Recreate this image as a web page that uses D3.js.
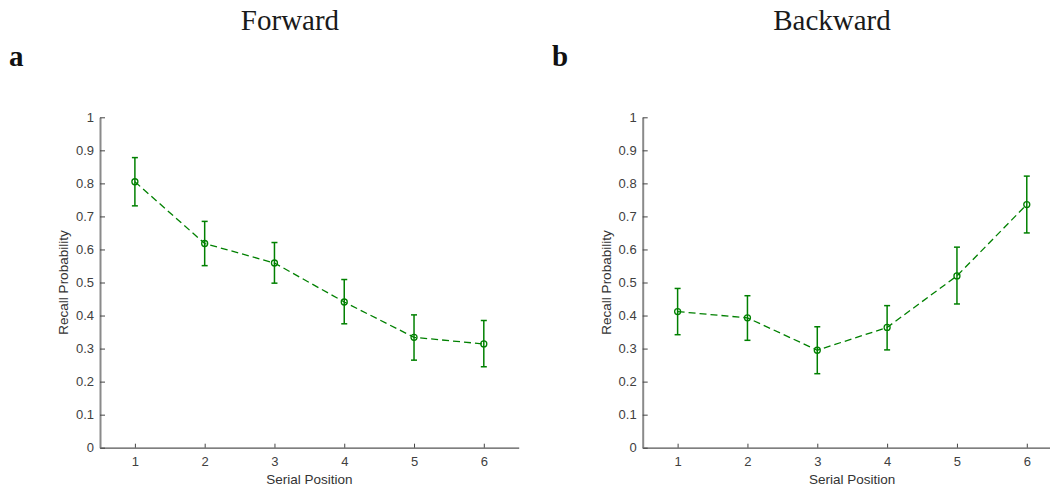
<!DOCTYPE html>
<html>
<head>
<meta charset="utf-8">
<script src="https://cdn.jsdelivr.net/npm/d3@7"></script>
<style>
  html, body { margin: 0; padding: 0; background: #fff; }
  svg { display: block; }
</style>
</head>
<body>
<svg id="chart" width="1050" height="489"></svg>
<script>
// ---- data ----
const positions = [1, 2, 3, 4, 5, 6];
const forwardMean  = [0.805, 0.618, 0.559, 0.441, 0.334, 0.314];
const forwardUpper = [0.878, 0.685, 0.621, 0.509, 0.402, 0.385];
const forwardLower = [0.732, 0.551, 0.498, 0.375, 0.265, 0.245];
const backwardMean  = [0.412, 0.393, 0.295, 0.364, 0.520, 0.736];
const backwardUpper = [0.482, 0.460, 0.366, 0.430, 0.607, 0.822];
const backwardLower = [0.342, 0.325, 0.224, 0.296, 0.435, 0.650];
const yTicks = [0, 0.1, 0.2, 0.3, 0.4, 0.5, 0.6, 0.7, 0.8, 0.9, 1];
const xTicks = [1, 2, 3, 4, 5, 6];
const panelTitles = ["Forward", "Backward"];
const panelLetters = ["a", "b"];
const xLabel = "Serial Position";
const yLabel = "Recall Probability";

const svg = d3.select("#chart");
const green = "#008000";

const panels = [
  { title: panelTitles[0], letter: panelLetters[0], mean: forwardMean, up: forwardUpper, lo: forwardLower,
    x0: 100, x1: 518.7, titleX: 290, letterX: 9, ylabX: 68 },
  { title: panelTitles[1], letter: panelLetters[1], mean: backwardMean, up: backwardUpper, lo: backwardLower,
    x0: 642.7, x1: 1061.7, titleX: 832, letterX: 552, ylabX: 611 }
];

const yTop = 117.3, yBot = 447.7;

panels.forEach(p => {
  const x = d3.scaleLinear().domain([0.5, 6.5]).range([p.x0, p.x1]);
  const y = d3.scaleLinear().domain([0, 1]).range([yBot, yTop]);
  const g = svg.append("g");

  // title
  svg.append("text")
    .attr("x", p.titleX).attr("y", 30)
    .attr("text-anchor", "middle")
    .attr("font-family", "'Liberation Serif', 'DejaVu Serif', serif")
    .attr("font-size", 29)
    .attr("fill", "#1a1a1a")
    .text(p.title);
  // letter
  svg.append("text")
    .attr("x", p.letterX).attr("y", 66)
    .attr("font-family", "'Liberation Serif', 'DejaVu Serif', serif")
    .attr("font-weight", "bold")
    .attr("font-size", 29)
    .attr("fill", "#111")
    .text(p.letter);

  // x axis
  const xAxis = d3.axisBottom(x).tickValues(xTicks).tickSizeInner(-4).tickSizeOuter(0).tickPadding(9)
    .tickFormat(d3.format("d"));
  const gx = g.append("g").attr("transform", `translate(0,${yBot})`).call(xAxis);
  gx.select(".domain").attr("stroke", "#555").attr("stroke-width", 1.3);
  gx.selectAll(".tick line").attr("stroke", "#444").attr("stroke-width", 1);
  gx.selectAll(".tick text").attr("font-family", "'Liberation Sans', Arial, sans-serif")
    .attr("font-size", 13).attr("fill", "#404040");

  // y axis
  const yAxis = d3.axisLeft(y).tickValues(yTicks).tickSizeInner(-5).tickSizeOuter(0).tickPadding(6)
    .tickFormat(d3.format("~g"));
  const gy = g.append("g").attr("transform", `translate(${p.x0},0)`).call(yAxis);
  gy.select(".domain").attr("stroke", "#8a8a8a").attr("stroke-width", 2);
  gy.selectAll(".tick line").attr("stroke", "#444").attr("stroke-width", 1);
  gy.selectAll(".tick text").attr("font-family", "'Liberation Sans', Arial, sans-serif")
    .attr("font-size", 13).attr("fill", "#404040");

  // labels
  svg.append("text")
    .attr("x", (p.x0 + 518.7 - 100 + p.x0) / 2).attr("y", 484)
    .attr("text-anchor", "middle")
    .attr("font-family", "'Liberation Sans', Arial, sans-serif")
    .attr("font-size", 13.5).attr("fill", "#333")
    .text(xLabel);
  svg.append("text")
    .attr("transform", `translate(${p.ylabX},${(yTop + yBot) / 2}) rotate(-90)`)
    .attr("text-anchor", "middle")
    .attr("font-family", "'Liberation Sans', Arial, sans-serif")
    .attr("font-size", 13.5).attr("fill", "#333")
    .text(yLabel);

  const data = positions.map((pos, i) => ({ pos, m: p.mean[i], u: p.up[i], l: p.lo[i] }));

  // dashed line
  g.append("path")
    .datum(data)
    .attr("fill", "none")
    .attr("stroke", green)
    .attr("stroke-width", 1.3)
    .attr("stroke-dasharray", "7,4")
    .attr("d", d3.line().x(d => x(d.pos)).y(d => y(d.m)));

  // error bars
  const eb = g.append("g").attr("stroke", green).attr("stroke-width", 1.5);
  eb.selectAll("line.v").data(data).join("line")
    .attr("x1", d => x(d.pos)).attr("x2", d => x(d.pos))
    .attr("y1", d => y(d.u)).attr("y2", d => y(d.l));
  eb.selectAll("line.t").data(data).join("line")
    .attr("x1", d => x(d.pos) - 3).attr("x2", d => x(d.pos) + 3)
    .attr("y1", d => y(d.u)).attr("y2", d => y(d.u));
  eb.selectAll("line.b").data(data).join("line")
    .attr("x1", d => x(d.pos) - 3).attr("x2", d => x(d.pos) + 3)
    .attr("y1", d => y(d.l)).attr("y2", d => y(d.l));

  // markers
  g.append("g").selectAll("circle").data(data).join("circle")
    .attr("cx", d => x(d.pos)).attr("cy", d => y(d.m)).attr("r", 3)
    .attr("fill", "none").attr("stroke", green).attr("stroke-width", 1.3);
});
</script>
</body>
</html>
